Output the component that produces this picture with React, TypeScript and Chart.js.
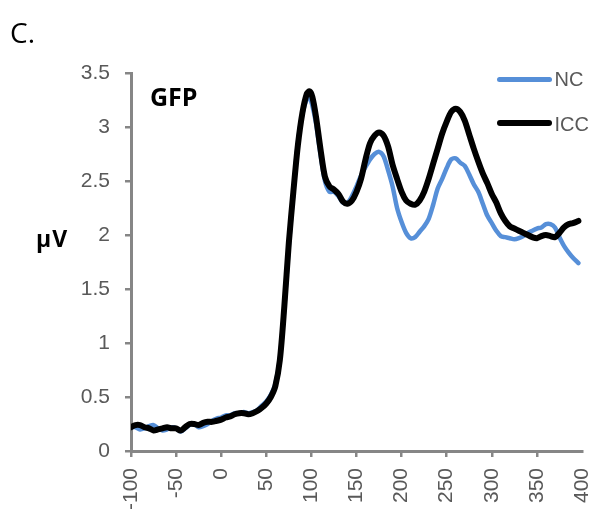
import React, { useEffect, useRef } from "react";
import { Chart, registerables } from "chart.js";

Chart.register(...registerables);

const times = [
  -100, -95, -90, -85, -80, -75, -70, -65, -60, -55, -50, -45, -40, -35, -30, -25, -20, -15, -10, -5,
  0, 5, 10, 15, 20, 25, 30, 35, 40, 45, 50, 55, 60, 65, 70, 75, 80, 85, 90, 95, 98, 101, 105, 110,
  115, 120, 125, 130, 135, 140, 145, 150, 155, 160, 165, 170, 175, 180, 185, 190, 195, 200, 205, 210,
  215, 220, 225, 230, 235, 240, 245, 250, 255, 260, 265, 270, 275, 280, 285, 290, 295, 300, 305, 310,
  315, 320, 325, 330, 335, 340, 345, 350, 355, 360, 365, 370, 375, 380, 385, 390, 396,
];

const iccValues = [
  0.22, 0.24, 0.24, 0.22, 0.21, 0.19, 0.2, 0.21, 0.22, 0.21, 0.21, 0.19, 0.22, 0.25, 0.25, 0.24, 0.26, 0.27, 0.27, 0.28,
  0.29, 0.31, 0.32, 0.34, 0.35, 0.35, 0.34, 0.35, 0.37, 0.4, 0.44, 0.5, 0.6, 0.84, 1.34, 1.93, 2.4, 2.83, 3.13, 3.31, 3.33, 3.28, 3.1, 2.8,
  2.54, 2.45, 2.42, 2.38, 2.31, 2.29, 2.32, 2.4, 2.52, 2.7, 2.85, 2.92, 2.95, 2.92, 2.82, 2.65, 2.52, 2.4, 2.32, 2.29,
  2.28, 2.32, 2.4, 2.52, 2.66, 2.8, 2.94, 3.05, 3.14, 3.17, 3.14, 3.06, 2.93, 2.8, 2.68, 2.57, 2.48, 2.38, 2.3, 2.2,
  2.13, 2.08, 2.06, 2.04, 2.02, 2.0, 1.98, 1.97, 1.99, 2.0, 1.99, 1.98, 2.02, 2.07, 2.1, 2.11, 2.13,
];

const ncValues = [
  0.22, 0.22, 0.2, 0.21, 0.23, 0.24, 0.21, 0.19, 0.2, 0.22, 0.21, 0.18, 0.21, 0.24, 0.25, 0.22, 0.23, 0.25, 0.28, 0.3,
  0.31, 0.33, 0.33, 0.35, 0.35, 0.36, 0.35, 0.36, 0.38, 0.42, 0.46, 0.52, 0.62, 0.85, 1.33, 1.9, 2.4, 2.85, 3.12, 3.26, 3.27, 3.2, 3.04, 2.75,
  2.5, 2.4, 2.4, 2.36, 2.3, 2.3, 2.36, 2.45, 2.55, 2.63, 2.7, 2.75, 2.77, 2.73, 2.6, 2.45, 2.25, 2.12, 2.02, 1.97,
  1.98, 2.03, 2.08, 2.15, 2.28, 2.43, 2.52, 2.62, 2.7, 2.71, 2.67, 2.64, 2.56, 2.47, 2.4, 2.29, 2.18, 2.11, 2.04, 1.99,
  1.98, 1.97, 1.96, 1.97, 1.99, 2.02, 2.04, 2.06, 2.07, 2.1, 2.1, 2.07, 1.98, 1.9, 1.84, 1.79, 1.74,
];

const seriesNames = ["NC", "ICC"];
const yTicks = { min: 0, max: 3.5, step: 0.5 };
const xTicks = { min: -100, max: 400, step: 50 };

const BLUE = "#568FD8";
const AXIS = "#868686";
const TICK_TEXT = "#595959";

export default function App() {
  const ref = useRef<HTMLCanvasElement | null>(null);

  useEffect(() => {
    if (!ref.current) return;
    const chart = new Chart(ref.current, {
      type: "line",
      data: {
        datasets: [
          {
            label: seriesNames[0],
            data: times.map((t, i) => ({ x: t, y: ncValues[i] })),
            borderColor: BLUE,
            borderWidth: 4.5,
            pointRadius: 0,
            tension: 0.3,
            borderCapStyle: "round",
            borderJoinStyle: "round",
            order: 1,
          },
          {
            label: seriesNames[1],
            data: times.map((t, i) => ({ x: t, y: iccValues[i] })),
            borderColor: "#000000",
            borderWidth: 6,
            pointRadius: 0,
            tension: 0.3,
            borderCapStyle: "round",
            borderJoinStyle: "round",
            order: 0,
          },
        ],
      },
      options: {
        responsive: false,
        animation: false,
        devicePixelRatio: 1,
        layout: { padding: { left: 0, top: 73, right: 12, bottom: 0 } },
        plugins: { legend: { display: false }, tooltip: { enabled: false }, title: { display: false } },
        scales: {
          x: {
            type: "linear",
            min: xTicks.min,
            max: xTicks.max,
            afterFit: (s: any) => {
              s.height = 63;
              s.paddingLeft = 0;
              s.paddingRight = 0;
            },
            ticks: {
              stepSize: xTicks.step,
              autoSkip: false,
              minRotation: 90,
              maxRotation: 90,
              padding: 11,
              color: TICK_TEXT,
              font: { family: "'Liberation Sans', Arial, sans-serif", size: 21 },
            },
            grid: {
              display: true,
              drawOnChartArea: false,
              drawTicks: true,
              tickLength: 6,
              lineWidth: 2.5,
              color: (c: any) => (c.tick && c.tick.value === xTicks.max ? "rgba(0,0,0,0)" : AXIS),
            },
            border: { display: true, color: AXIS, width: 3 },
          },
          y: {
            type: "linear",
            min: yTicks.min,
            max: yTicks.max,
            afterFit: (s: any) => {
              s.width = 131;
              s.paddingTop = 0;
              s.paddingBottom = 0;
            },
            ticks: {
              stepSize: yTicks.step,
              padding: 15,
              color: TICK_TEXT,
              font: { family: "'Liberation Sans', Arial, sans-serif", size: 21 },
              callback: (v: any) => String(Number(v)),
            },
            grid: {
              display: true,
              drawOnChartArea: false,
              drawTicks: true,
              tickLength: 6,
              lineWidth: 2.5,
              color: AXIS,
            },
            border: { display: true, color: AXIS, width: 3 },
          },
        },
      },
    });
    return () => chart.destroy();
  }, []);

  const abs = (o: React.CSSProperties): React.CSSProperties => ({ position: "absolute", lineHeight: 1, whiteSpace: "nowrap", margin: 0, ...o });

  return (
    <div style={{ position: "absolute", left: 0, top: 0, width: 594, height: 514, background: "#fff", overflow: "hidden" }}>
      <canvas ref={ref} width={594} height={514} style={{ position: "absolute", left: 0, top: 0, width: 594, height: 514 }} />
      <div style={abs({ left: 10, top: 18, fontFamily: "'Open Sans', sans-serif", fontSize: 28, color: "#000" })}>C.</div>
      <div style={abs({ left: 36, top: 226.5, fontFamily: "'Open Sans', sans-serif", fontWeight: 700, fontSize: 23, letterSpacing: 1, color: "#000" })}>μV</div>
      <div style={abs({ left: 150, top: 83.5, fontFamily: "'Open Sans', sans-serif", fontWeight: 700, fontSize: 25, color: "#000" })}>GFP</div>
      <div style={abs({ left: 497, top: 76.5, width: 55, height: 5, borderRadius: 3, background: BLUE })} />
      <div style={abs({ left: 554.5, top: 69.1, fontFamily: "'Liberation Sans', Arial, sans-serif", fontSize: 20, color: TICK_TEXT })}>{seriesNames[0]}</div>
      <div style={abs({ left: 497, top: 120, width: 55, height: 6, borderRadius: 3, background: "#000" })} />
      <div style={abs({ left: 554.5, top: 114.1, fontFamily: "'Liberation Sans', Arial, sans-serif", fontSize: 20, color: TICK_TEXT })}>{seriesNames[1]}</div>
    </div>
  );
}
